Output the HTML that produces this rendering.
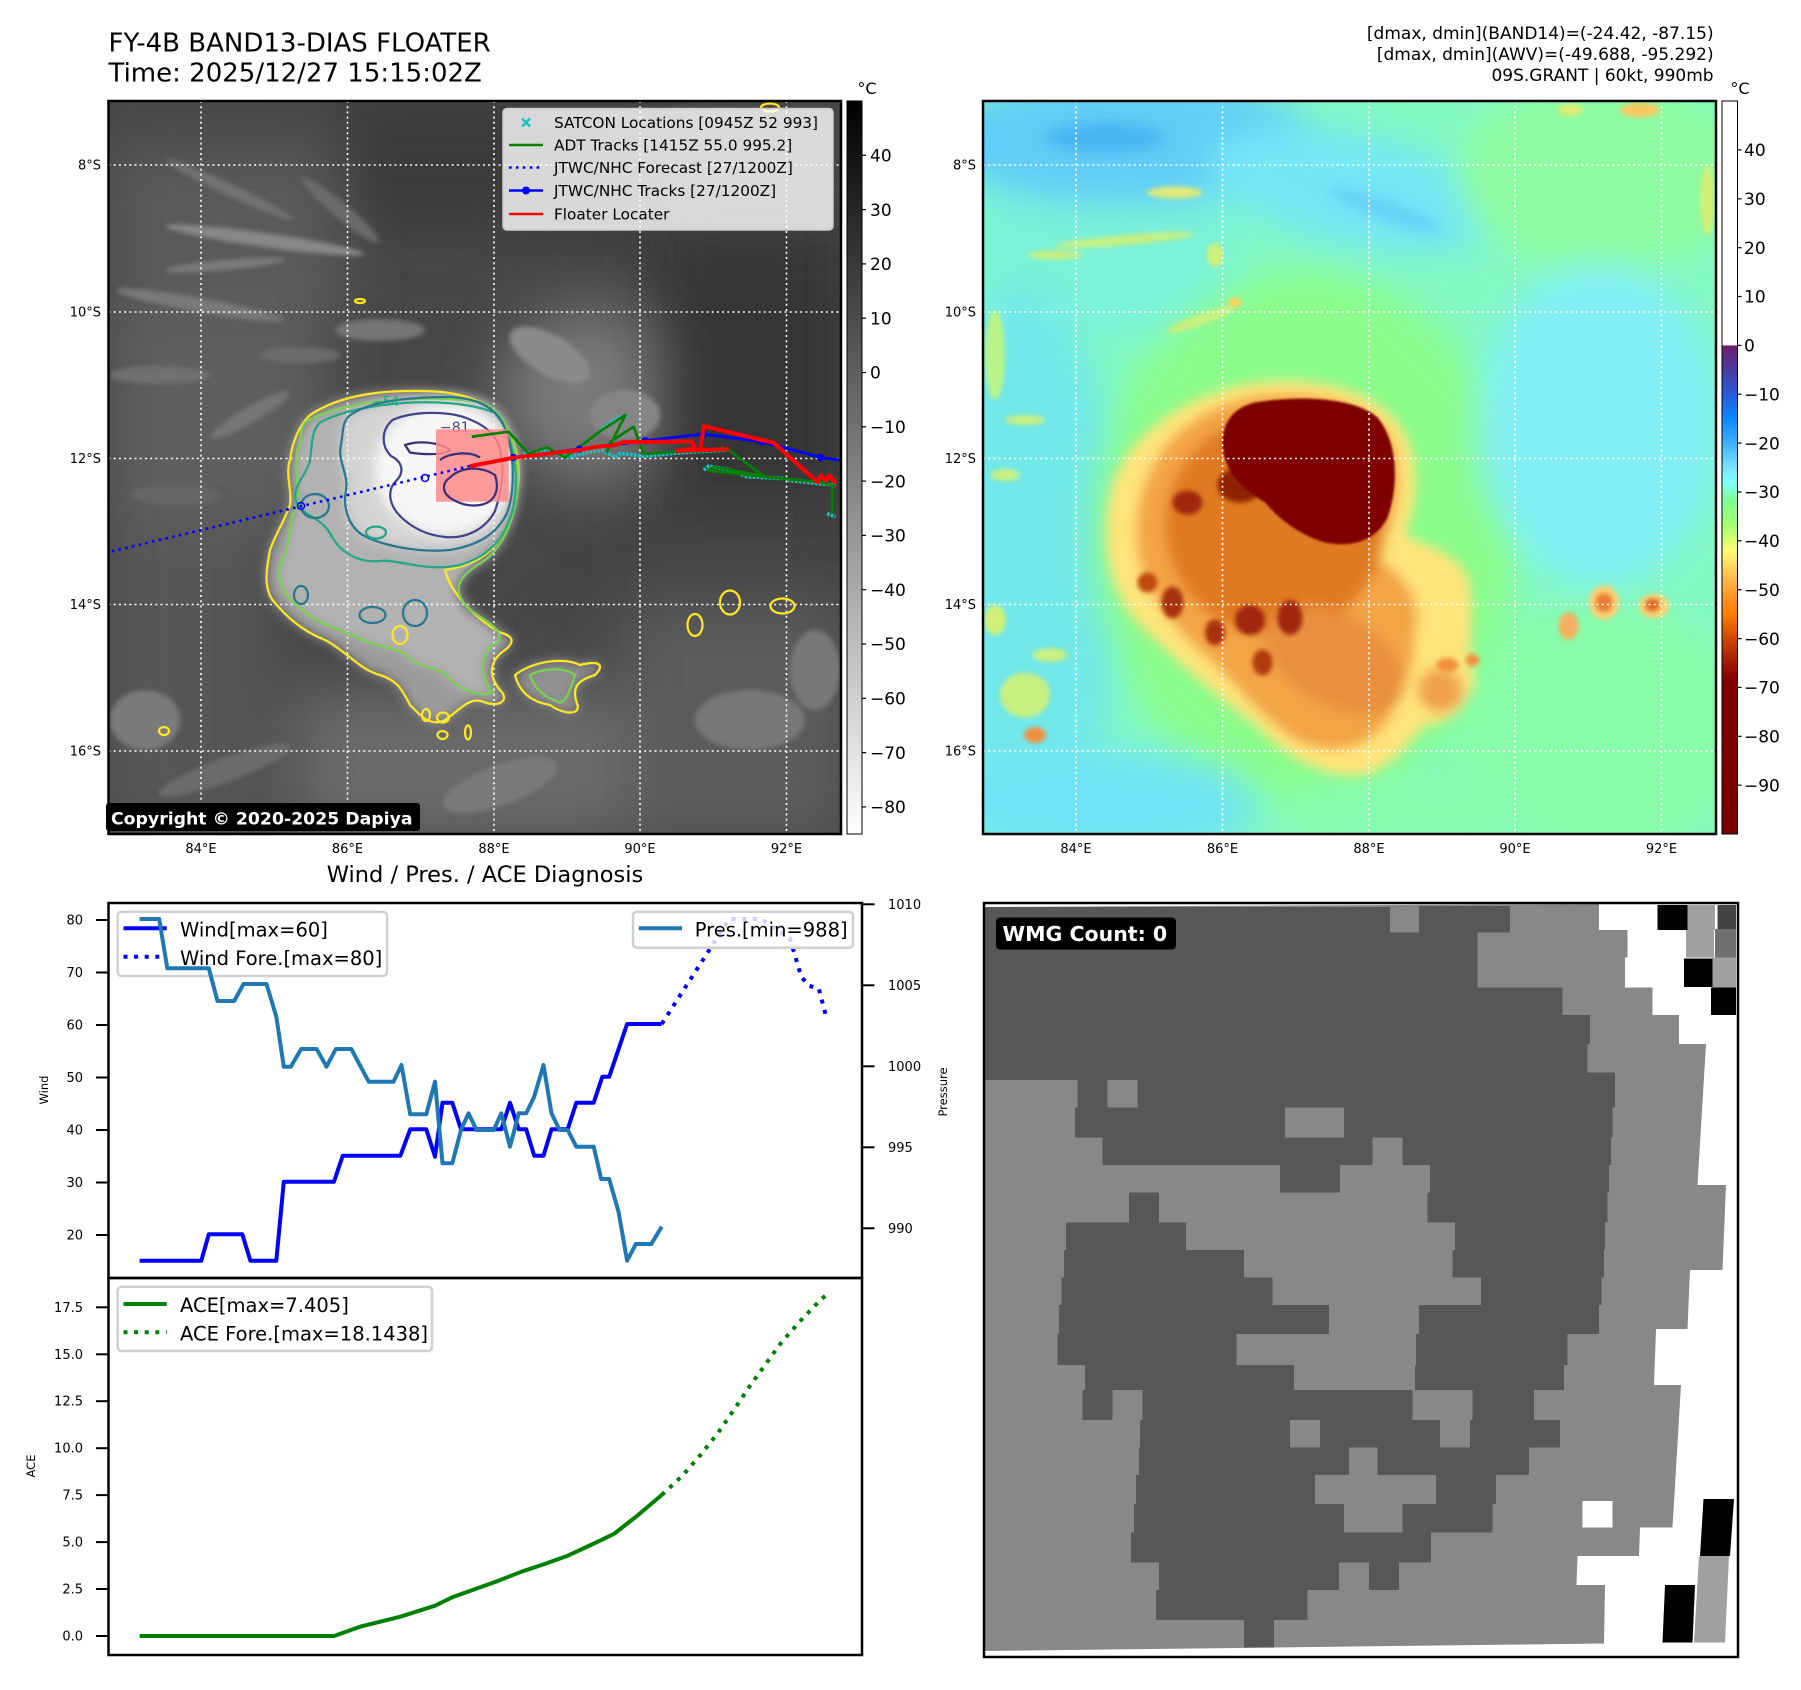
<!DOCTYPE html>
<html><head><meta charset="utf-8">
<style>
html,body{margin:0;padding:0;background:#fff;width:1801px;height:1690px;overflow:hidden;}
svg{display:block;}
text{font-family:"DejaVu Sans","Liberation Sans",sans-serif;}
</style></head><body>
<svg width="1801" height="1690" viewBox="0 0 1801 1690" xmlns="http://www.w3.org/2000/svg">
<defs>
 <clipPath id="cL"><rect x="108.5" y="101" width="732.5" height="733"/></clipPath>
 <clipPath id="cR"><rect x="983" y="101" width="733" height="733"/></clipPath>
 <clipPath id="cW"><rect x="984" y="903" width="754" height="754"/></clipPath>
 <filter id="fA" x="-60%" y="-60%" width="220%" height="220%"><feGaussianBlur stdDeviation="60"/></filter>
 <filter id="fB" x="-60%" y="-60%" width="220%" height="220%"><feGaussianBlur stdDeviation="35"/></filter>
 <filter id="fC" x="-60%" y="-60%" width="220%" height="220%"><feGaussianBlur stdDeviation="22"/></filter>
 <filter id="fD" x="-60%" y="-60%" width="220%" height="220%"><feGaussianBlur stdDeviation="12"/></filter>
 <filter id="fE" x="-60%" y="-60%" width="220%" height="220%"><feGaussianBlur stdDeviation="5"/></filter>
 <filter id="fF" x="-60%" y="-60%" width="220%" height="220%"><feGaussianBlur stdDeviation="2"/></filter>
 <linearGradient id="gL" x1="0" y1="0" x2="0" y2="1">
  <stop offset="0" stop-color="#000"/><stop offset="1" stop-color="#fff"/>
 </linearGradient>
 <linearGradient id="gR" x1="0" y1="0" x2="0" y2="1">
  <stop offset="0" stop-color="#fff"/>
  <stop offset="0.333" stop-color="#fff"/>
  <stop offset="0.334" stop-color="#6b1e6e"/>
  <stop offset="0.367" stop-color="#4a3aa0"/>
  <stop offset="0.40" stop-color="#2a5ad8"/>
  <stop offset="0.433" stop-color="#0a88ff"/>
  <stop offset="0.467" stop-color="#40b0ff"/>
  <stop offset="0.50" stop-color="#78e4ff"/>
  <stop offset="0.52" stop-color="#80ffff"/>
  <stop offset="0.547" stop-color="#80ff90"/>
  <stop offset="0.58" stop-color="#a8ff70"/>
  <stop offset="0.613" stop-color="#ffff70"/>
  <stop offset="0.647" stop-color="#ffc050"/>
  <stop offset="0.68" stop-color="#ff9020"/>
  <stop offset="0.70" stop-color="#ff8000"/>
  <stop offset="0.733" stop-color="#d04800"/>
  <stop offset="0.767" stop-color="#a01800"/>
  <stop offset="0.793" stop-color="#800000"/>
  <stop offset="1" stop-color="#780000"/>
 </linearGradient>
</defs>

<!-- ===== TITLES ===== -->
<text x="108.5" y="51.7" font-size="26" fill="#000">FY-4B BAND13-DIAS FLOATER</text>
<text x="108.5" y="81.7" font-size="26" fill="#000">Time: 2025/12/27 15:15:02Z</text>
<g font-size="17" text-anchor="end" fill="#000">
 <text x="1713.6" y="39">[dmax, dmin](BAND14)=(-24.42, -87.15)</text>
 <text x="1713.6" y="60">[dmax, dmin](AWV)=(-49.688, -95.292)</text>
 <text x="1713.6" y="81">09S.GRANT | 60kt, 990mb</text>
</g>
<text x="867" y="94" font-size="16" text-anchor="middle">°C</text>
<text x="1740" y="94" font-size="16" text-anchor="middle">°C</text>

<!-- ===== LEFT MAP ===== -->
<g clip-path="url(#cL)">
 <rect x="108.5" y="101" width="733" height="733" fill="#474747"/>
 <g transform="translate(100 95) scale(0.5)">
  <g filter="url(#fA)">
   <rect x="16" y="100" width="470" height="350" fill="#5a5a5a"/>
   <rect x="480" y="0" width="360" height="260" fill="#3a3a3a"/>
   <rect x="16" y="440" width="430" height="420" fill="#5e5e5e"/>
   <ellipse cx="980" cy="600" rx="180" ry="170" fill="#7a7a7a"/>
   <rect x="1100" y="260" width="400" height="720" fill="#363636"/>
   <rect x="880" y="820" width="600" height="220" fill="#444"/>
   <rect x="0" y="860" width="340" height="640" fill="#565656"/>
   <rect x="390" y="1190" width="660" height="300" fill="#6a6a6a"/>
   <rect x="1050" y="1020" width="450" height="480" fill="#5c5c5c"/>
   <rect x="840" y="0" width="300" height="300" fill="#3e3e3e"/>
  </g>
  <g filter="url(#fE)">
   <ellipse cx="330" cy="290" rx="200" ry="14" fill="#888" transform="rotate(8 330 290)"/>
   <ellipse cx="250" cy="340" rx="120" ry="10" fill="#7c7c7c" transform="rotate(-5 250 340)"/>
   <ellipse cx="260" cy="190" rx="140" ry="12" fill="#727272" transform="rotate(25 260 190)"/>
   <ellipse cx="200" cy="420" rx="170" ry="14" fill="#7a7a7a" transform="rotate(10 200 420)"/>
   <ellipse cx="480" cy="230" rx="100" ry="16" fill="#6a6a6a" transform="rotate(40 480 230)"/>
   <ellipse cx="120" cy="560" rx="100" ry="18" fill="#707070"/>
   <ellipse cx="300" cy="640" rx="90" ry="16" fill="#767676" transform="rotate(-30 300 640)"/>
   <ellipse cx="560" cy="470" rx="90" ry="22" fill="#747474"/>
   <ellipse cx="400" cy="520" rx="80" ry="16" fill="#6c6c6c"/>
   <ellipse cx="90" cy="1250" rx="70" ry="60" fill="#7a7a7a"/>
   <ellipse cx="250" cy="1350" rx="140" ry="24" fill="#6c6c6c" transform="rotate(-20 250 1350)"/>
   <ellipse cx="1300" cy="1250" rx="110" ry="60" fill="#787878"/>
   <ellipse cx="1430" cy="1150" rx="50" ry="80" fill="#787878"/>
   <ellipse cx="900" cy="520" rx="90" ry="40" fill="#8a8a8a" transform="rotate(30 900 520)"/>
   <ellipse cx="1050" cy="640" rx="70" ry="50" fill="#858585"/>
   <ellipse cx="150" cy="800" rx="90" ry="20" fill="#666"/>
   <ellipse cx="800" cy="1380" rx="120" ry="40" fill="#7a7a7a" transform="rotate(-20 800 1380)"/>
  </g>
  <g filter="url(#fD)">
   <path fill="#9c9c9c" d="M 420,640 C 480,600 560,590 650,592 C 740,594 800,620 825,690 C 850,760 835,840 790,900 C 760,935 720,945 690,950 C 700,990 740,1040 800,1075 C 820,1080 835,1090 810,1110 C 780,1130 775,1160 800,1190 C 820,1210 800,1225 770,1215 C 740,1200 720,1230 690,1250 C 660,1265 640,1240 620,1220 C 600,1180 590,1170 560,1160 C 520,1150 490,1110 450,1090 C 400,1070 370,1040 345,1010 C 325,980 335,940 340,910 C 350,880 370,850 380,820 C 385,790 370,760 380,730 C 385,690 400,660 420,640 Z"/>
   <path fill="#909090" d="M 830,1160 C 870,1130 930,1125 960,1140 C 1000,1130 1010,1140 990,1160 C 960,1170 940,1180 955,1220 C 960,1240 930,1240 900,1220 C 870,1215 840,1200 830,1160 Z"/>
   <path fill="#b2b2b2" d="M 410,655 C 480,610 650,598 760,614 C 820,634 842,720 834,800 C 824,870 795,918 755,940 C 718,965 700,990 738,1028 C 775,1055 812,1072 795,1095 C 758,1108 758,1165 785,1195 C 755,1205 720,1188 700,1168 C 680,1140 640,1150 612,1120 C 582,1100 560,1108 522,1088 C 482,1068 432,1058 402,1028 C 362,998 350,960 364,930 C 382,900 374,860 392,822 C 402,782 384,742 398,702 C 402,682 402,665 410,655 Z"/>
  </g>
  <g filter="url(#fD)">
   <path fill="#d4d4d4" d="M 498,642 C 542,608 640,604 700,604 C 758,606 798,628 812,672 C 830,722 830,800 812,840 C 792,878 758,900 700,910 C 640,916 562,902 522,878 C 494,858 486,820 492,790 C 498,760 474,730 482,700 C 487,670 484,656 498,642 Z"/>
   <ellipse cx="690" cy="748" rx="140" ry="130" fill="#f7f7f7"/>
  </g>
 </g>
 <!-- gridlines -->
 <g stroke="#fff" stroke-width="1.6" stroke-dasharray="2 3.2">
  <line x1="201" y1="101" x2="201" y2="834"/><line x1="347.5" y1="101" x2="347.5" y2="834"/>
  <line x1="494" y1="101" x2="494" y2="834"/><line x1="640" y1="101" x2="640" y2="834"/>
  <line x1="786.5" y1="101" x2="786.5" y2="834"/>
  <line x1="108.5" y1="165" x2="841" y2="165"/><line x1="108.5" y1="312" x2="841" y2="312"/>
  <line x1="108.5" y1="458.5" x2="841" y2="458.5"/><line x1="108.5" y1="604.5" x2="841" y2="604.5"/>
  <line x1="108.5" y1="751" x2="841" y2="751"/>
 </g>
 <!-- contours -->
 <g transform="translate(100 95) scale(0.5)" fill="none" stroke-width="4.5" stroke-linejoin="round">
  <path stroke="#fde725" d="M 420,640 C 480,600 560,590 650,592 C 740,594 800,620 825,690 C 850,760 835,840 790,900 C 760,935 720,945 690,950 C 700,990 740,1040 800,1075 C 820,1080 835,1090 810,1110 C 780,1130 775,1160 800,1190 C 820,1210 800,1225 770,1215 C 740,1200 720,1230 690,1250 C 660,1265 640,1240 620,1220 C 600,1180 590,1170 560,1160 C 520,1150 490,1110 450,1090 C 400,1070 370,1040 345,1010 C 325,980 335,940 340,910 C 350,880 370,850 380,820 C 385,790 370,760 380,730 C 385,690 400,660 420,640 Z"/>
  <path stroke="#fde725" d="M 830,1160 C 870,1130 930,1125 960,1140 C 1000,1130 1010,1140 990,1160 C 960,1170 940,1180 955,1220 C 960,1240 930,1240 900,1220 C 870,1215 840,1200 830,1160 Z"/>
  <ellipse stroke="#fde725" cx="1260" cy="1015" rx="20" ry="24"/>
  <ellipse stroke="#fde725" cx="1190" cy="1060" rx="15" ry="22"/>
  <ellipse stroke="#fde725" cx="1365" cy="1022" rx="24" ry="15"/>
  <ellipse stroke="#fde725" cx="520" cy="412" rx="10" ry="4"/>
  <ellipse stroke="#fde725" cx="128" cy="1272" rx="10" ry="8"/>
  <ellipse stroke="#fde725" cx="1340" cy="25" rx="18" ry="8"/>
  <ellipse stroke="#fde725" cx="652" cy="1240" rx="8" ry="12"/>
  <ellipse stroke="#fde725" cx="686" cy="1245" rx="12" ry="10"/>
  <ellipse stroke="#fde725" cx="685" cy="1280" rx="10" ry="8"/>
  <ellipse stroke="#fde725" cx="736" cy="1275" rx="6" ry="14"/>
  <ellipse stroke="#fde725" cx="600" cy="1080" rx="15" ry="18"/>
  <path stroke="#7ad151" d="M 410,655 C 480,610 650,598 760,614 C 820,634 842,720 834,800 C 824,870 795,918 755,940 C 718,965 700,990 738,1028 C 775,1055 812,1072 795,1095 C 758,1108 758,1165 785,1195 C 755,1205 720,1188 700,1168 C 680,1140 640,1150 612,1120 C 582,1100 560,1108 522,1088 C 482,1068 432,1058 402,1028 C 362,998 350,960 364,930 C 382,900 374,860 392,822 C 402,782 384,742 398,702 C 402,682 402,665 410,655 Z"/>
  <path stroke="#7ad151" d="M 860,1160 C 890,1145 930,1145 950,1160 C 940,1190 935,1210 920,1215 C 890,1205 870,1190 860,1160 Z"/>
  <path stroke="#22a884" d="M 440,655 C 520,612 700,600 788,635 C 826,672 840,760 826,828 C 808,895 770,925 720,940 C 650,955 600,928 560,932 C 520,936 482,918 462,880 C 442,842 402,842 392,812 C 384,782 412,762 420,732 C 424,702 422,672 440,655 Z"/>
  <path stroke="#2a788e" d="M 498,642 C 542,608 640,604 700,604 C 758,606 798,628 812,672 C 830,722 830,800 812,840 C 792,878 758,900 700,910 C 640,916 562,902 522,878 C 494,858 486,820 492,790 C 498,760 474,730 482,700 C 487,670 484,656 498,642 Z"/>
  <ellipse stroke="#2a788e" cx="430" cy="822" rx="28" ry="24"/>
  <ellipse stroke="#2a788e" cx="545" cy="1040" rx="26" ry="16"/>
  <ellipse stroke="#2a788e" cx="630" cy="1036" rx="24" ry="26"/>
  <ellipse stroke="#2a788e" cx="402" cy="1000" rx="14" ry="18"/>
  <ellipse stroke="#22a884" cx="552" cy="875" rx="20" ry="12"/>
  <path stroke="#414487" d="M 585,650 C 625,632 700,630 742,650 C 772,662 800,684 802,722 C 810,762 800,802 790,832 C 770,870 730,888 690,884 C 650,880 620,862 600,842 C 580,822 572,792 592,772 C 612,752 602,732 582,722 C 562,702 562,670 585,650 Z"/>
  <path stroke="#3b2f7a" d="M 610,700 C 640,690 680,695 700,710 C 690,720 650,720 620,715 Z"/>
 </g>
 <text x="440" y="432" font-size="14" fill="#414487">−81</text>
 <text x="372" y="406" font-size="13" fill="#22a884">−54</text>
 <rect x="436" y="429.3" width="72.6" height="72.4" fill="#ff8a8a" opacity="0.85"/>
 <g transform="translate(100 95) scale(0.5)" fill="none" stroke="#3b2f7a" stroke-width="4.5">
  <path d="M 700,765 C 720,745 760,740 790,760 C 800,790 790,815 760,820 C 730,825 700,810 690,795 C 685,780 690,772 700,765 Z"/>
  <path d="M 680,730 C 700,715 740,712 760,725"/>
 </g>
 <line x1="470" y1="466" x2="109" y2="552" stroke="#0000ff" stroke-width="2.6" stroke-dasharray="2.6 4.3"/>
 <circle cx="425" cy="478" r="3.5" fill="none" stroke="#0000ff" stroke-width="1.5"/>
 <circle cx="301" cy="506" r="3.5" fill="none" stroke="#0000ff" stroke-width="1.5"/>
 <g transform="translate(380 370) scale(0.3337)" fill="none" stroke-linejoin="round">
  <g stroke="#1fbfbf" stroke-width="11" stroke-dasharray="8 4">
   <polyline points="430,250 500,240 560,262 620,248 665,240 705,262 720,250 790,258 900,248 1040,240"/>
   <polyline points="660,180 700,150 740,135"/>
   <polyline points="970,300 985,288 1050,300 1100,320 1210,325"/>
   <polyline points="1220,330 1310,340 1365,345"/>
   <polyline points="1340,430 1365,440"/>
  </g>
  <polyline stroke="#008000" stroke-width="8" points="275,200 385,185 445,250 500,232 555,262 665,180 735,135 680,245 690,215 760,170 790,252 890,245 1045,240 1150,318 1000,290 985,302 1080,312 1200,325 1315,335 1355,345 1355,430"/>
  <polyline stroke="#0000ff" stroke-width="9" points="400,262 598,237 795,212 970,192 1145,215 1320,262 1380,270"/>
  <g fill="#0000ff">
   <circle cx="400" cy="262" r="11"/><circle cx="598" cy="237" r="11"/><circle cx="795" cy="212" r="11"/>
   <circle cx="970" cy="192" r="11"/><circle cx="1145" cy="215" r="11"/><circle cx="1320" cy="262" r="11"/>
  </g>
  <polyline stroke="#ff0000" stroke-width="12" points="270,288 405,262 595,240 650,230 700,226 730,216 935,214 945,234 890,242 1045,237"/>
  <polyline stroke="#ff0000" stroke-width="12" points="960,240 970,168 1180,218 1310,335 1322,316 1335,332 1348,316 1365,340"/>
 </g>
 <rect x="503" y="108.5" width="330" height="121.5" rx="4" fill="#fff" fill-opacity="0.8" stroke="#cccccc" stroke-width="1.5"/>
 <g stroke="#1fbfbf" stroke-width="2.6"><line x1="522" y1="118.5" x2="530" y2="126.5"/><line x1="530" y1="118.5" x2="522" y2="126.5"/></g>
 <line x1="509" y1="145" x2="543" y2="145" stroke="#008000" stroke-width="2.6"/>
 <line x1="509" y1="167.5" x2="543" y2="167.5" stroke="#0000ff" stroke-width="2.6" stroke-dasharray="2.6 4.3"/>
 <line x1="509" y1="190.5" x2="543" y2="190.5" stroke="#0000ff" stroke-width="2.6"/>
 <circle cx="526" cy="190.5" r="4" fill="#0000ff"/>
 <line x1="509" y1="214" x2="543" y2="214" stroke="#ff0000" stroke-width="2.6"/>
 <g font-size="15.3" fill="#000">
  <text x="554" y="128">SATCON Locations [0945Z 52 993]</text>
  <text x="554" y="150.5">ADT Tracks [1415Z 55.0 995.2]</text>
  <text x="554" y="173">JTWC/NHC Forecast [27/1200Z]</text>
  <text x="554" y="196">JTWC/NHC Tracks [27/1200Z]</text>
  <text x="554" y="219.5">Floater Locater</text>
 </g>
</g>
<rect x="108.5" y="101" width="732.5" height="733" fill="none" stroke="#000" stroke-width="2.5"/>
<rect x="106" y="803" width="314" height="28" rx="3" fill="#000"/>
<text x="111" y="824.5" font-size="17.3" font-weight="bold" fill="#fff">Copyright © 2020-2025 Dapiya</text>

<!-- left colorbar -->
<rect x="847" y="101" width="15" height="733" fill="url(#gL)" stroke="#000" stroke-width="1"/>
<g stroke="#000" stroke-width="1.2">
 <line x1="862" y1="155.3" x2="866" y2="155.3"/><line x1="862" y1="209.6" x2="866" y2="209.6"/>
 <line x1="862" y1="263.9" x2="866" y2="263.9"/><line x1="862" y1="318.2" x2="866" y2="318.2"/>
 <line x1="862" y1="372.5" x2="866" y2="372.5"/><line x1="862" y1="426.8" x2="866" y2="426.8"/>
 <line x1="862" y1="481.1" x2="866" y2="481.1"/><line x1="862" y1="535.4" x2="866" y2="535.4"/>
 <line x1="862" y1="589.7" x2="866" y2="589.7"/><line x1="862" y1="644" x2="866" y2="644"/>
 <line x1="862" y1="698.3" x2="866" y2="698.3"/><line x1="862" y1="752.6" x2="866" y2="752.6"/>
 <line x1="862" y1="806.9" x2="866" y2="806.9"/>
</g>
<g font-size="17" fill="#000">
 <text x="870" y="161.5">40</text><text x="870" y="215.8">30</text><text x="870" y="270.1">20</text>
 <text x="870" y="324.4">10</text><text x="870" y="378.7">0</text><text x="870" y="433">−10</text>
 <text x="870" y="487.3">−20</text><text x="870" y="541.6">−30</text><text x="870" y="595.9">−40</text>
 <text x="870" y="650.2">−50</text><text x="870" y="704.5">−60</text><text x="870" y="758.8">−70</text>
 <text x="870" y="813.1">−80</text>
</g>

<!-- map axis labels -->
<g font-size="13" fill="#000" text-anchor="end">
 <text x="101" y="169.5">8°S</text><text x="101" y="316.5">10°S</text><text x="101" y="463">12°S</text>
 <text x="101" y="609">14°S</text><text x="101" y="755.5">16°S</text>
 <text x="976" y="169.5">8°S</text><text x="976" y="316.5">10°S</text><text x="976" y="463">12°S</text>
 <text x="976" y="609">14°S</text><text x="976" y="755.5">16°S</text>
</g>
<g font-size="13" fill="#000" text-anchor="middle">
 <text x="201" y="853">84°E</text><text x="347.5" y="853">86°E</text><text x="494" y="853">88°E</text>
 <text x="640" y="853">90°E</text><text x="786.5" y="853">92°E</text>
 <text x="1076" y="853">84°E</text><text x="1222.5" y="853">86°E</text><text x="1369" y="853">88°E</text>
 <text x="1515" y="853">90°E</text><text x="1661.5" y="853">92°E</text>
</g>

<!-- ===== RIGHT MAP ===== -->
<g clip-path="url(#cR)">
 <rect x="983" y="101" width="733" height="733" fill="#84f8c4"/>
 <g transform="translate(975 95) scale(0.5)">
  <g filter="url(#fB)">
   <rect x="0" y="150" width="520" height="330" fill="#7cf2d8"/>
   <ellipse cx="90" cy="950" rx="200" ry="560" fill="#72e8ea"/>
   <ellipse cx="300" cy="90" rx="380" ry="130" fill="#62ccf6"/>
   <ellipse cx="760" cy="190" rx="300" ry="110" fill="#76e6f6" transform="rotate(12 760 190)"/>
   <ellipse cx="1260" cy="160" rx="300" ry="190" fill="#8efca0"/>
   <ellipse cx="660" cy="880" rx="430" ry="530" fill="#8afc8c"/>
   <ellipse cx="1250" cy="660" rx="240" ry="320" fill="#82eef6"/>
   <ellipse cx="1250" cy="1270" rx="300" ry="250" fill="#88fca8"/>
   <ellipse cx="240" cy="1420" rx="320" ry="110" fill="#70e4f4"/>
   <ellipse cx="860" cy="1440" rx="260" ry="80" fill="#86fcb0"/>
  </g>
  <g filter="url(#fD)">
   <ellipse cx="260" cy="85" rx="120" ry="30" fill="#4ab6f2"/>
   <ellipse cx="820" cy="230" rx="120" ry="20" fill="#66d0f6" transform="rotate(20 820 230)"/>
  </g>
  <g filter="url(#fE)">
   <ellipse cx="300" cy="290" rx="140" ry="10" fill="#c8f080" transform="rotate(-5 300 290)"/>
   <ellipse cx="400" cy="195" rx="55" ry="12" fill="#e0ea78"/>
   <ellipse cx="520" cy="415" rx="14" ry="10" fill="#ffd060"/>
   <ellipse cx="450" cy="450" rx="70" ry="12" fill="#c8f080" transform="rotate(-20 450 450)"/>
   <ellipse cx="40" cy="520" rx="20" ry="90" fill="#b8f488"/>
   <ellipse cx="100" cy="1200" rx="50" ry="45" fill="#c8f080"/>
   <ellipse cx="120" cy="1280" rx="22" ry="16" fill="#f09040"/>
   <ellipse cx="1330" cy="30" rx="40" ry="14" fill="#f8c860"/>
   <ellipse cx="1190" cy="30" rx="25" ry="12" fill="#e0ea78"/>
   <ellipse cx="1465" cy="210" rx="15" ry="70" fill="#d0f078"/>
   <ellipse cx="480" cy="320" rx="16" ry="24" fill="#d0f078"/>
   <ellipse cx="160" cy="320" rx="55" ry="9" fill="#c8f080"/>
   <ellipse cx="150" cy="1120" rx="35" ry="14" fill="#c8f080"/>
   <ellipse cx="40" cy="1050" rx="22" ry="30" fill="#d0f078"/>
   <ellipse cx="60" cy="760" rx="30" ry="12" fill="#c8f080"/>
   <ellipse cx="100" cy="650" rx="40" ry="10" fill="#c8f080"/>
  </g>
  <g filter="url(#fD)">
   <path fill="#ffe47a" d="M 560,575 C 680,560 800,590 850,660 C 900,740 880,830 860,880 C 900,900 980,920 990,980 C 1000,1060 980,1130 1000,1160 C 1000,1200 960,1260 900,1260 C 860,1300 820,1370 740,1360 C 680,1355 620,1320 560,1260 C 480,1200 400,1130 330,1060 C 270,1000 250,900 270,800 C 290,700 400,600 560,575 Z"/>
   <path fill="#f3a444" d="M 580,600 C 690,590 790,615 830,680 C 860,760 850,850 800,920 C 850,960 900,1000 880,1080 C 880,1140 860,1200 820,1260 C 770,1320 700,1320 640,1290 C 580,1250 540,1200 480,1140 C 410,1080 350,1010 330,940 C 310,850 330,760 390,690 C 450,630 520,605 580,600 Z"/>
   <ellipse cx="600" cy="860" rx="220" ry="220" fill="#e07a22"/>
   <ellipse cx="720" cy="1130" rx="150" ry="90" fill="#e89040" transform="rotate(30 720 1130)"/>
   <ellipse cx="930" cy="1190" rx="45" ry="45" fill="#f0a050"/>
  </g>
  <g filter="url(#fE)">
   <ellipse cx="425" cy="815" rx="30" ry="24" fill="#a02808"/>
   <ellipse cx="345" cy="975" rx="20" ry="20" fill="#c04810"/>
   <ellipse cx="395" cy="1015" rx="22" ry="32" fill="#a83008"/>
   <ellipse cx="480" cy="1075" rx="20" ry="26" fill="#a83008"/>
   <ellipse cx="550" cy="1050" rx="30" ry="30" fill="#a02808"/>
   <ellipse cx="630" cy="1045" rx="25" ry="35" fill="#a02808"/>
   <ellipse cx="575" cy="1135" rx="20" ry="26" fill="#b03a0a"/>
   <ellipse cx="530" cy="780" rx="45" ry="35" fill="#902000"/>
   <ellipse cx="1258" cy="1015" rx="30" ry="34" fill="#ffd070"/>
   <ellipse cx="1258" cy="1015" rx="18" ry="20" fill="#e88030"/>
   <ellipse cx="1358" cy="1022" rx="30" ry="24" fill="#ffd070"/>
   <ellipse cx="1355" cy="1020" rx="16" ry="14" fill="#e06820"/>
   <ellipse cx="1187" cy="1062" rx="20" ry="28" fill="#f4b060"/>
   <ellipse cx="995" cy="1130" rx="14" ry="12" fill="#f09040"/>
   <ellipse cx="945" cy="1140" rx="22" ry="14" fill="#f09040"/>
  </g>
  <path filter="url(#fF)" fill="#7e0000" d="M 560,615 C 650,600 760,605 805,645 C 850,700 845,790 825,845 C 800,895 750,905 700,895 C 650,880 610,850 580,815 C 540,790 500,760 495,700 C 495,650 520,625 560,615 Z"/>
 </g>
 <g stroke="#fff" stroke-width="1.6" stroke-dasharray="2 3.2">
  <line x1="1076" y1="101" x2="1076" y2="834"/><line x1="1222.5" y1="101" x2="1222.5" y2="834"/>
  <line x1="1369" y1="101" x2="1369" y2="834"/><line x1="1515" y1="101" x2="1515" y2="834"/>
  <line x1="1661.5" y1="101" x2="1661.5" y2="834"/>
  <line x1="983" y1="165" x2="1716" y2="165"/><line x1="983" y1="312" x2="1716" y2="312"/>
  <line x1="983" y1="458.5" x2="1716" y2="458.5"/><line x1="983" y1="604.5" x2="1716" y2="604.5"/>
  <line x1="983" y1="751" x2="1716" y2="751"/>
 </g>
</g>
<rect x="983" y="101" width="733" height="733" fill="none" stroke="#000" stroke-width="2.5"/>

<!-- right colorbar -->
<rect x="1722" y="101" width="15.5" height="733" fill="url(#gR)" stroke="#000" stroke-width="1"/>
<g stroke="#000" stroke-width="1.2">
 <line x1="1737.5" y1="149.9" x2="1741.5" y2="149.9"/><line x1="1737.5" y1="198.8" x2="1741.5" y2="198.8"/>
 <line x1="1737.5" y1="247.7" x2="1741.5" y2="247.7"/><line x1="1737.5" y1="296.5" x2="1741.5" y2="296.5"/>
 <line x1="1737.5" y1="345.4" x2="1741.5" y2="345.4"/><line x1="1737.5" y1="394.2" x2="1741.5" y2="394.2"/>
 <line x1="1737.5" y1="443.1" x2="1741.5" y2="443.1"/><line x1="1737.5" y1="492" x2="1741.5" y2="492"/>
 <line x1="1737.5" y1="540.8" x2="1741.5" y2="540.8"/><line x1="1737.5" y1="589.7" x2="1741.5" y2="589.7"/>
 <line x1="1737.5" y1="638.6" x2="1741.5" y2="638.6"/><line x1="1737.5" y1="687.4" x2="1741.5" y2="687.4"/>
 <line x1="1737.5" y1="736.3" x2="1741.5" y2="736.3"/><line x1="1737.5" y1="785.2" x2="1741.5" y2="785.2"/>
</g>
<g font-size="17" fill="#000">
 <text x="1744" y="156.1">40</text><text x="1744" y="205">30</text><text x="1744" y="253.9">20</text>
 <text x="1744" y="302.7">10</text><text x="1744" y="351.6">0</text><text x="1744" y="400.4">−10</text>
 <text x="1744" y="449.3">−20</text><text x="1744" y="498.2">−30</text><text x="1744" y="547">−40</text>
 <text x="1744" y="595.9">−50</text><text x="1744" y="644.8">−60</text><text x="1744" y="693.6">−70</text>
 <text x="1744" y="742.5">−80</text><text x="1744" y="791.4">−90</text>
</g>

<!-- ===== WIND / PRES PANEL ===== -->
<text x="485" y="882" font-size="22.5" text-anchor="middle" fill="#000">Wind / Pres. / ACE Diagnosis</text>
<polyline fill="none" stroke="#0000ff" stroke-width="4" stroke-linejoin="round" points="139.6,1260.7 201.3,1260.7 208.8,1234.3 242.3,1234.3 250.4,1260.7 276.3,1260.7 283.8,1181.7 334,1181.7 342.7,1155.7 400.4,1155.7 410.2,1129.3 426.3,1129.3 435,1156.7 442.5,1102.7 452.3,1102.7 461,1129.3 501.3,1129.3 510,1102.7 518.7,1129.3 526.2,1129.3 534.2,1155.7 543.5,1155.7 551.5,1129.3 567.7,1129.3 576.3,1102.7 593.7,1102.7 602.3,1076.7 609.2,1076.7 627.1,1024 661.7,1024"/>
<polyline fill="none" stroke="#0000ff" stroke-width="4" stroke-dasharray="4 6.6" points="661.7,1024 729.2,919 761,919 789.8,938.3 801.3,976.7 808.8,985.7 818.7,988.3 826.2,1016.7"/>
<rect x="117.7" y="911.7" width="269.3" height="64.3" rx="4" fill="#fff" fill-opacity="0.8" stroke="#d0d0d0" stroke-width="2.5"/>
<line x1="123.5" y1="928.3" x2="166.7" y2="928.3" stroke="#0000ff" stroke-width="4"/>
<line x1="123.5" y1="956.7" x2="166.7" y2="956.7" stroke="#0000ff" stroke-width="4" stroke-dasharray="4 6.6"/>
<text x="180" y="936.5" font-size="19.5" fill="#000">Wind[max=60]</text>
<text x="180" y="965" font-size="19.5" fill="#000">Wind Fore.[max=80]</text>
<polyline fill="none" stroke="#1f77b4" stroke-width="4" stroke-linejoin="round" points="139.6,919 159.2,919 167.3,968.3 208.8,968.3 217.5,1001 234.2,1001 243.5,984 266.5,984 276.3,1016.7 283.8,1066.7 290.8,1066.7 301.2,1049 316.7,1049 326.5,1066.7 335.8,1049 351.3,1049 368.7,1081.7 393.5,1081.7 401.5,1065 410.2,1114.3 426.3,1114.3 435,1081.7 442.5,1163.3 452.3,1163.3 461,1130 468.5,1113.3 476.5,1130 493.8,1130 501.3,1113.3 510,1146.7 518.7,1113.3 526.2,1113.3 534.2,1096.7 543.5,1065 551.5,1113.3 559.6,1130 567.7,1130 576.3,1146.7 593.7,1146.7 601.2,1179 609.2,1179 618.5,1211.7 627.1,1260.7 635.8,1244 651.3,1244 661.7,1226.7"/>
<rect x="633" y="911.7" width="220" height="36" rx="4" fill="#fff" fill-opacity="0.8" stroke="#d0d0d0" stroke-width="2.5"/>
<line x1="638.8" y1="928.3" x2="682" y2="928.3" stroke="#1f77b4" stroke-width="4"/>
<text x="694.7" y="936.5" font-size="19.5" fill="#000">Pres.[min=988]</text>
<rect x="108.5" y="903" width="753.5" height="375" fill="none" stroke="#000" stroke-width="2.5"/>
<g stroke="#000" stroke-width="2">
 <line x1="96" y1="920" x2="108.5" y2="920"/><line x1="96" y1="972.5" x2="108.5" y2="972.5"/>
 <line x1="96" y1="1025" x2="108.5" y2="1025"/><line x1="96" y1="1077.5" x2="108.5" y2="1077.5"/>
 <line x1="96" y1="1130" x2="108.5" y2="1130"/><line x1="96" y1="1182.5" x2="108.5" y2="1182.5"/>
 <line x1="96" y1="1235" x2="108.5" y2="1235"/>
 <line x1="862" y1="904.3" x2="874.5" y2="904.3"/><line x1="862" y1="985.3" x2="874.5" y2="985.3"/>
 <line x1="862" y1="1066.3" x2="874.5" y2="1066.3"/><line x1="862" y1="1147.3" x2="874.5" y2="1147.3"/>
 <line x1="862" y1="1228.3" x2="874.5" y2="1228.3"/>
</g>
<g font-size="13" fill="#000" text-anchor="end">
 <text x="83" y="924.5">80</text><text x="83" y="977">70</text><text x="83" y="1029.5">60</text>
 <text x="83" y="1082">50</text><text x="83" y="1134.5">40</text><text x="83" y="1187">30</text>
 <text x="83" y="1239.5">20</text>
</g>
<g font-size="13" fill="#000">
 <text x="888" y="908.8">1010</text><text x="888" y="989.8">1005</text><text x="888" y="1070.8">1000</text>
 <text x="888" y="1151.8">995</text><text x="888" y="1232.8">990</text>
</g>
<text transform="translate(48 1090) rotate(-90)" font-size="11.5" text-anchor="middle" fill="#000">Wind</text>
<text transform="translate(947 1092) rotate(-90)" font-size="11.5" text-anchor="middle" fill="#000">Pressure</text>

<!-- ===== ACE PANEL ===== -->
<polyline fill="none" stroke="#008000" stroke-width="4" stroke-linejoin="round" points="139.6,1636 334,1636 360,1626.7 400.4,1616.7 435,1605.7 452.3,1597.3 498.5,1580.7 521.5,1571.7 544.6,1564 567.7,1555.7 590.8,1545 613.8,1534 636.9,1516 661.7,1495"/>
<polyline fill="none" stroke="#008000" stroke-width="4" stroke-dasharray="4 6.6" points="661.7,1495 683.1,1475 700.4,1455 717.7,1433.3 733.8,1410 749.4,1386.7 765,1365 781.2,1342.7 799.6,1321.7 818.7,1301.7 827.3,1294"/>
<rect x="117.7" y="1286.7" width="314.3" height="64.3" rx="4" fill="#fff" fill-opacity="0.8" stroke="#d0d0d0" stroke-width="2.5"/>
<line x1="123.5" y1="1304" x2="166.7" y2="1304" stroke="#008000" stroke-width="4"/>
<line x1="123.5" y1="1332.3" x2="166.7" y2="1332.3" stroke="#008000" stroke-width="4" stroke-dasharray="4 6.6"/>
<text x="180" y="1312" font-size="19.5" fill="#000">ACE[max=7.405]</text>
<text x="180" y="1340.5" font-size="19.5" fill="#000">ACE Fore.[max=18.1438]</text>
<rect x="108.5" y="1278" width="753.5" height="377" fill="none" stroke="#000" stroke-width="2.5"/>
<g stroke="#000" stroke-width="2">
 <line x1="96" y1="1636" x2="108.5" y2="1636"/><line x1="96" y1="1589" x2="108.5" y2="1589"/>
 <line x1="96" y1="1542.1" x2="108.5" y2="1542.1"/><line x1="96" y1="1495.1" x2="108.5" y2="1495.1"/>
 <line x1="96" y1="1448.2" x2="108.5" y2="1448.2"/><line x1="96" y1="1401.2" x2="108.5" y2="1401.2"/>
 <line x1="96" y1="1354.3" x2="108.5" y2="1354.3"/><line x1="96" y1="1307.3" x2="108.5" y2="1307.3"/>
</g>
<g font-size="13" fill="#000" text-anchor="end">
 <text x="83" y="1640.5">0.0</text><text x="83" y="1593.5">2.5</text><text x="83" y="1546.6">5.0</text>
 <text x="83" y="1499.6">7.5</text><text x="83" y="1452.7">10.0</text><text x="83" y="1405.7">12.5</text>
 <text x="83" y="1358.8">15.0</text><text x="83" y="1311.8">17.5</text>
</g>
<text transform="translate(35 1466) rotate(-90)" font-size="11.5" text-anchor="middle" fill="#000">ACE</text>

<!-- ===== WMG PANEL ===== -->
<g clip-path="url(#cW)">
 <rect x="984" y="903" width="754" height="754" fill="#fff"/>
 <g transform="translate(980 895) scale(0.5)">
  <path fill="#888888" d="M 10,24 L 1238,18 L 1238,70 L 1295,70 L 1295,125 L 1290,125 L 1290,185 L 1345,185 L 1345,240 L 1398,240 L 1398,298 L 1452,298 L 1435,580 L 1492,580 L 1485,750 L 1420,750 L 1415,868 L 1352,868 L 1348,980 L 1402,980 L 1385,1265 L 1320,1265 L 1318,1322 L 1195,1322 L 1193,1380 L 1250,1380 L 1248,1497 L 10,1512 Z"/>
  <rect x="1205" y="1212" width="60" height="53" fill="#fff"/>
  <g fill="#575757">
   <rect x="10" y="24" width="810" height="51"/><rect x="878" y="22" width="182" height="53"/>
   <rect x="10" y="75" width="985" height="110"/>
   <rect x="10" y="185" width="1155" height="55"/>
   <rect x="10" y="240" width="1210" height="58"/>
   <rect x="10" y="298" width="1205" height="72"/><rect x="1215" y="355" width="55" height="15"/>
   <rect x="195" y="370" width="60" height="55"/><rect x="315" y="370" width="955" height="55"/>
   <rect x="190" y="425" width="420" height="60"/><rect x="728" y="425" width="537" height="60"/>
   <rect x="245" y="485" width="540" height="55"/><rect x="845" y="485" width="417" height="55"/>
   <rect x="600" y="540" width="120" height="55"/><rect x="900" y="540" width="358" height="55"/>
   <rect x="298" y="595" width="60" height="60"/><rect x="895" y="595" width="360" height="60"/>
   <rect x="172" y="655" width="240" height="55"/><rect x="950" y="655" width="300" height="55"/>
   <rect x="168" y="710" width="360" height="55"/><rect x="945" y="710" width="303" height="55"/>
   <rect x="163" y="765" width="422" height="55"/><rect x="1002" y="765" width="241" height="55"/>
   <rect x="158" y="820" width="540" height="58"/><rect x="878" y="820" width="360" height="58"/>
   <rect x="155" y="878" width="358" height="62"/><rect x="872" y="878" width="303" height="62"/>
   <rect x="210" y="940" width="418" height="50"/><rect x="870" y="940" width="298" height="50"/>
   <rect x="205" y="990" width="60" height="60"/><rect x="325" y="990" width="540" height="60"/><rect x="985" y="990" width="123" height="60"/>
   <rect x="320" y="1050" width="300" height="55"/><rect x="680" y="1050" width="240" height="55"/><rect x="980" y="1050" width="180" height="55"/>
   <rect x="318" y="1105" width="420" height="55"/><rect x="795" y="1105" width="303" height="55"/>
   <rect x="312" y="1160" width="358" height="58"/><rect x="912" y="1160" width="120" height="58"/>
   <rect x="308" y="1218" width="420" height="57"/><rect x="845" y="1218" width="180" height="57"/>
   <rect x="302" y="1275" width="600" height="60"/>
   <rect x="358" y="1335" width="360" height="55"/><rect x="778" y="1335" width="60" height="55"/>
   <rect x="352" y="1390" width="303" height="60"/>
   <rect x="528" y="1450" width="60" height="55"/>
  </g>
  <g fill="#a0a0a0">
   <rect x="1415" y="20" width="55" height="50"/><rect x="1412" y="70" width="56" height="55"/>
   <rect x="1465" y="125" width="47" height="60"/>
   <polygon points="1438,1322 1498,1322 1490,1495 1428,1495"/>
  </g>
  <rect x="1475" y="20" width="37" height="48" fill="#444"/>
  <rect x="1470" y="68" width="42" height="57" fill="#707070"/>
  <g fill="#000">
   <rect x="1355" y="20" width="60" height="50"/>
   <rect x="1408" y="127" width="57" height="57"/>
   <rect x="1462" y="185" width="50" height="55"/>
   <polygon points="1447,1208 1508,1208 1500,1322 1440,1322"/>
   <polygon points="1370,1380 1430,1380 1425,1495 1365,1495"/>
  </g>
 </g>
</g>
<rect x="984" y="903" width="754" height="754" fill="none" stroke="#000" stroke-width="2.5"/>
<rect x="996" y="917.5" width="180" height="32" rx="4" fill="#000"/>
<text x="1002.5" y="941" font-size="20.5" font-weight="bold" fill="#fff">WMG Count: 0</text>
</svg>
</body></html>
